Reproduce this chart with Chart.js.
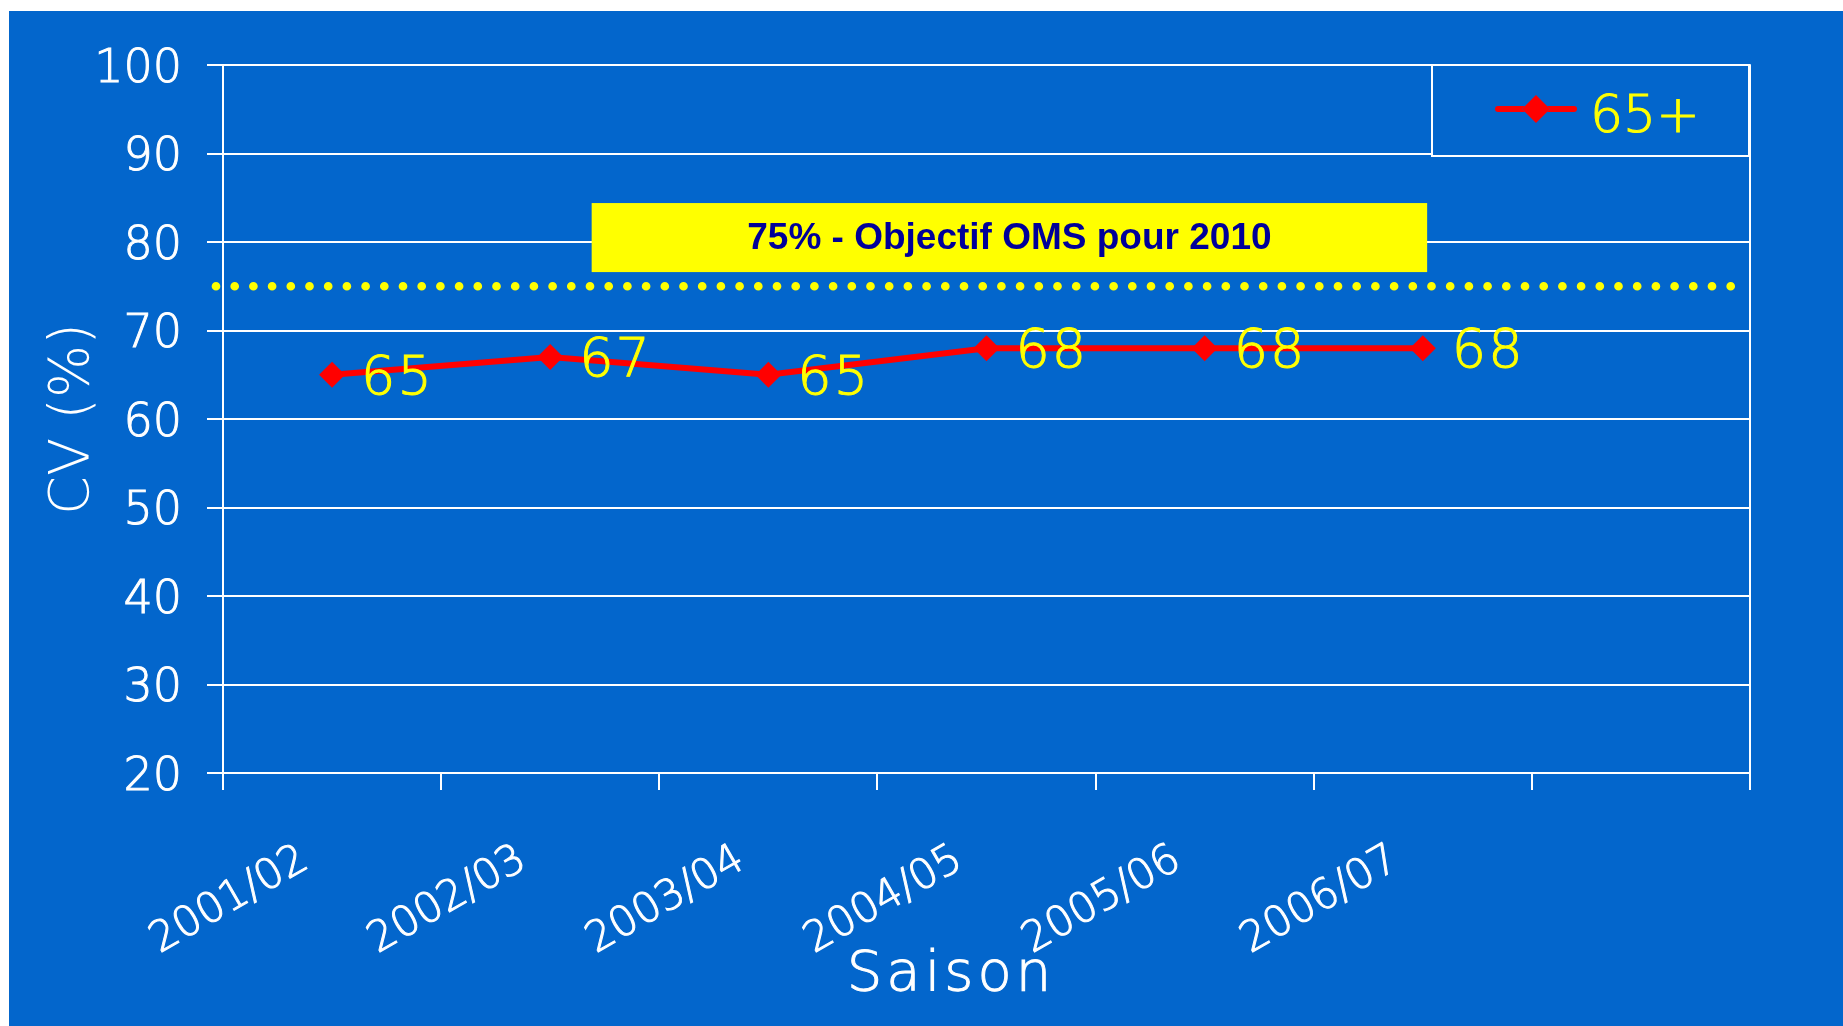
<!DOCTYPE html>
<html>
<head>
<meta charset="utf-8">
<script src="https://cdn.jsdelivr.net/npm/chart.js@4.4.1/dist/chart.umd.min.js"></script>
<style>
  html, body { margin: 0; padding: 0; background: #ffffff; }
  #wrap { position: absolute; left: 9px; top: 11px; width: 1834px; height: 1015px; background: #0366cc; }
  canvas { display: block; }
</style>
</head>
<body>
<div id="wrap"><canvas id="graf" width="1834" height="1015"></canvas></div>
<script>
// données
const saisons = ["2001/02", "2002/03", "2003/04", "2004/05", "2005/06", "2006/07", ""];
const couverture65 = [65, 67, 65, 68, 68, 68, null];
const serieNom = "65+";
const objectif = 75;
const objectifTexte = "75% - Objectif OMS pour 2010";
const yMin = 20, yMax = 100, yPas = 10;

const FONTE = '"DejaVu Sans", sans-serif';
const POIDS = 200;
const BLEU = "#0366cc";
const JAUNE = "#ffff00";
const ROUGE = "#ff0000";

// texte un peu épaissi (trait fin + remplissage)
function texte(ctx, str, x, y, couleur) {
  ctx.fillStyle = couleur;
  ctx.strokeStyle = couleur;
  ctx.lineWidth = 1;
  ctx.fillText(str, x, y);
  ctx.strokeText(str, x, y);
}

/* =======================
   OBJECTIF OMS (ligne + encadré)
======================= */
const pluginObjectif = {
  id: "objectif",
  beforeDatasetsDraw(chart) {
    const { ctx, chartArea: ca, scales: { x, y } } = chart;
    const yo = y.getPixelForValue(objectif);

    ctx.save();
    // ligne pointillée à 75 %
    ctx.strokeStyle = JAUNE;
    ctx.lineWidth = 8.7;
    ctx.lineCap = "round";
    ctx.setLineDash([0, 18.7]);
    ctx.beginPath();
    ctx.moveTo(ca.left - 7, yo);
    ctx.lineTo(ca.right - 18, yo);
    ctx.stroke();
    ctx.setLineDash([]);

    // encadré jaune
    const x1 = x.getPixelForValue(1.19), x2 = x.getPixelForValue(5.02);
    const y1 = y.getPixelForValue(84.4), y2 = y.getPixelForValue(76.6);
    ctx.fillStyle = JAUNE;
    ctx.fillRect(x1, y1, x2 - x1, y2 - y1);
    ctx.fillStyle = "#000099";
    ctx.font = 'bold 37px "Liberation Sans", Arial, sans-serif';
    ctx.textAlign = "center";
    ctx.textBaseline = "middle";
    ctx.fillText(objectifTexte, (x1 + x2) / 2, (y1 + y2) / 2 + 1);

    // bord droit du graphique
    ctx.strokeStyle = "#ffffff";
    ctx.lineWidth = 2;
    ctx.beginPath();
    ctx.moveTo(ca.right, ca.top);
    ctx.lineTo(ca.right, ca.bottom);
    ctx.stroke();
    ctx.restore();
  }
};

/* =======================
   ÉTIQUETTES DES POINTS + LÉGENDE + TITRE X
======================= */
const pluginEtiquettes = {
  id: "etiquettes",
  afterDatasetsDraw(chart) {
    const { ctx, chartArea: ca } = chart;
    const meta = chart.getDatasetMeta(0);
    const ds = chart.data.datasets[0];

    ctx.save();
    ctx.font = POIDS + " 54px " + FONTE;
    ctx.textAlign = "left";
    ctx.textBaseline = "middle";
    ctx.letterSpacing = "2px";
    meta.data.forEach((pt, i) => {
      if (ds.data[i] == null) return;
      texte(ctx, String(ds.data[i]), pt.x + 29, pt.y + 5, JAUNE);
    });

    // légende dans le coin haut droit
    const bx = ca.right - 318, by = ca.top, bw = 317, bh = 91;
    ctx.fillStyle = BLEU;
    ctx.fillRect(bx, by, bw, bh);
    ctx.strokeStyle = "#ffffff";
    ctx.lineWidth = 2;
    ctx.strokeRect(bx, by, bw, bh);

    const ly = by + 44;
    ctx.strokeStyle = ds.borderColor;
    ctx.lineWidth = 6;
    ctx.lineCap = "round";
    ctx.beginPath();
    ctx.moveTo(bx + 66, ly);
    ctx.lineTo(bx + 142, ly);
    ctx.stroke();
    Chart.helpers.drawPoint(ctx, { pointStyle: "rectRot", radius: 14, borderWidth: 0 }, bx + 104, ly);
    ctx.fillStyle = ROUGE;
    ctx.fill();

    ctx.font = POIDS + " 52px " + FONTE;
    ctx.letterSpacing = "0px";
    texte(ctx, ds.label, bx + 158, ly + 9, JAUNE);

    // titre de l'axe des x (un peu à gauche du centre, comme l'original)
    ctx.font = POIDS + " 56px " + FONTE;
    ctx.letterSpacing = "4px";
    ctx.textAlign = "center";
    texte(ctx, "Saison", ca.left + 728, 964, "#ffffff");
    ctx.restore();
  }
};

new Chart(document.getElementById("graf"), {
  type: "line",
  data: {
    labels: saisons,
    datasets: [{
      label: serieNom,
      data: couverture65,
      borderColor: ROUGE,
      backgroundColor: ROUGE,
      borderWidth: 6,
      tension: 0,
      pointStyle: "rectRot",
      pointRadius: 13,
      pointBorderWidth: 0,
      pointBackgroundColor: ROUGE
    }]
  },
  options: {
    responsive: false,
    devicePixelRatio: 1,
    animation: false,
    layout: { padding: { top: 54, right: 93, left: 0, bottom: 0 } },
    plugins: {
      legend: { display: false },
      tooltip: { enabled: false }
    },
    scales: {
      x: {
        offset: true,
        afterFit(s) { s.height = 253; },
        grid: {
          offset: true,
          drawOnChartArea: false,
          drawTicks: true,
          tickLength: 17,
          color: "#ffffff",
          lineWidth: 2
        },
        border: { display: true, color: "#ffffff", width: 2 },
        ticks: {
          color: "#ffffff",
          font: { family: FONTE, size: 42, weight: POIDS },
          textStrokeColor: "#ffffff",
          textStrokeWidth: 1,
          minRotation: 30,
          maxRotation: 30,
          autoSkip: false,
          padding: 45,
          labelOffset: -27
        }
      },
      y: {
        min: yMin,
        max: yMax,
        afterFit(s) { s.width = 214; },
        grid: {
          color: "#ffffff",
          lineWidth: 2,
          tickLength: 16
        },
        border: { display: true, color: "#ffffff", width: 2 },
        ticks: {
          stepSize: yPas,
          color: "#ffffff",
          font: { family: FONTE, size: 46, weight: POIDS },
          textStrokeColor: "#ffffff",
          textStrokeWidth: 1,
          padding: 25,
          labelOffset: 5
        },
        title: {
          display: true,
          text: "CV (%)",
          color: "#ffffff",
          font: { family: FONTE, size: 56, weight: POIDS },
          padding: { top: 31, bottom: 0 }
        }
      }
    }
  },
  plugins: [pluginObjectif, pluginEtiquettes]
});
</script>
</body>
</html>
